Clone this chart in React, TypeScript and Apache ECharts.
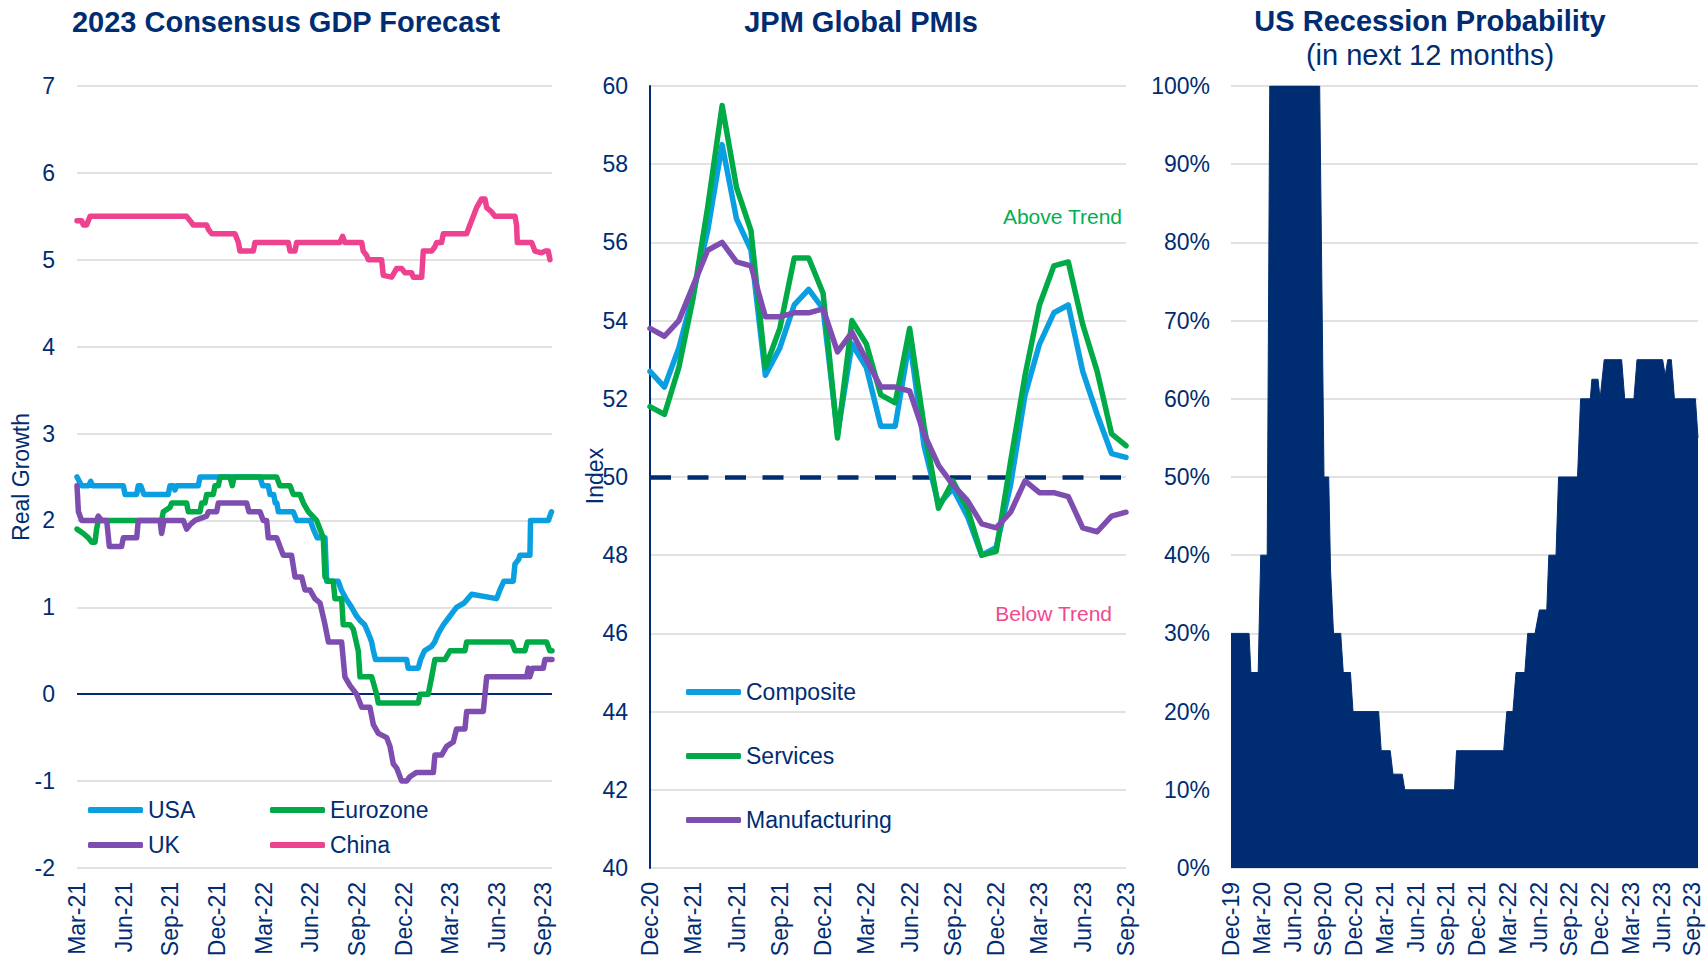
import React, { useEffect, useRef } from 'react';
import * as echarts from 'echarts';

const FONT = '"Liberation Sans", Arial, sans-serif';
const NAVY = '#002D72';
const BLUE = '#0A9FE0';
const GREEN = '#00AA47';
const PURPLE = '#7E4DB0';
const PINK = '#EE4290';
const GRID_GRAY = '#D9D9D9';

// ---------- Panel 1: 2023 Consensus GDP Forecast ----------
// points: [months since 1 Mar 2021, real growth %]
const gdpTicks = ['Mar-21', 'Jun-21', 'Sep-21', 'Dec-21', 'Mar-22', 'Jun-22', 'Sep-22', 'Dec-22', 'Mar-23', 'Jun-23', 'Sep-23'];

const usa: number[][] = [
  [0, 2.5], [0.3, 2.4], [0.75, 2.4], [0.88, 2.45], [1.0, 2.4], [2.98, 2.4], [3.09, 2.3], [3.84, 2.3], [3.94, 2.4],
  [4.1, 2.4], [4.3, 2.3], [5.87, 2.3], [5.98, 2.4], [6.2, 2.4], [6.3, 2.35], [6.41, 2.4], [7.8, 2.4], [7.91, 2.5],
  [11.77, 2.5], [11.94, 2.4], [12.3, 2.4], [12.41, 2.3], [12.65, 2.3], [12.75, 2.2], [12.85, 2.2], [12.95, 2.1],
  [13.91, 2.1], [14.13, 2.0], [15.0, 2.0], [15.2, 1.9], [15.45, 1.8], [15.95, 1.8], [16.06, 1.3], [16.8, 1.3],
  [17.0, 1.2], [17.3, 1.1], [17.66, 1.0], [17.98, 0.9], [18.2, 0.85], [18.5, 0.8], [18.74, 0.7], [18.95, 0.6],
  [19.06, 0.5], [19.2, 0.4], [21.2, 0.4], [21.3, 0.3], [21.95, 0.3], [22.1, 0.4], [22.35, 0.5], [22.8, 0.55],
  [23.0, 0.6], [23.24, 0.7], [23.57, 0.8], [23.99, 0.9], [24.2, 0.95], [24.41, 1.0], [24.9, 1.05], [25.38, 1.15],
  [26.99, 1.1], [27.2, 1.2], [27.45, 1.3], [28.06, 1.3], [28.17, 1.5], [28.4, 1.55], [28.49, 1.6], [29.13, 1.6],
  [29.17, 2.0], [30.31, 2.0], [30.52, 2.1],
];

const eurozone: number[][] = [
  [0, 1.9], [0.41, 1.85], [0.73, 1.8], [0.94, 1.75], [1.16, 1.75], [1.26, 1.9], [1.37, 2.0], [5.44, 2.0], [5.55, 2.1],
  [5.98, 2.15], [6.09, 2.2], [7.05, 2.2], [7.16, 2.1], [7.91, 2.1], [8.02, 2.2], [8.23, 2.2], [8.34, 2.3], [8.77, 2.3],
  [8.87, 2.4], [9.09, 2.4], [9.2, 2.5], [9.84, 2.5], [9.99, 2.4], [10.1, 2.5], [12.84, 2.5], [13.05, 2.4], [13.7, 2.4],
  [13.91, 2.3], [14.34, 2.3], [14.56, 2.2], [14.88, 2.1], [15.41, 2.0], [15.63, 1.9], [15.84, 1.8], [15.95, 1.35],
  [16.17, 1.3], [16.48, 1.3], [16.59, 1.1], [17.02, 1.1], [17.12, 0.8], [17.56, 0.8], [17.77, 0.75], [18.09, 0.5],
  [18.2, 0.2], [18.95, 0.2], [19.27, 0.0], [19.38, -0.1], [21.95, -0.1], [22.06, 0.0], [22.59, 0.0], [22.81, 0.2],
  [23.02, 0.4], [23.67, 0.4], [23.99, 0.5], [24.95, 0.5], [25.06, 0.6], [27.96, 0.6], [28.17, 0.5], [28.81, 0.5],
  [28.96, 0.6], [30.2, 0.6], [30.41, 0.5], [30.55, 0.5],
];

const uk: number[][] = [
  [0, 2.4], [0.09, 2.1], [0.3, 2.0], [1.26, 2.0], [1.37, 2.05], [1.59, 2.0], [1.91, 2.0], [2.08, 1.7], [2.87, 1.7],
  [2.98, 1.8], [3.84, 1.8], [3.94, 2.0], [5.34, 2.0], [5.44, 1.85], [5.6, 2.0], [6.84, 2.0], [7.05, 1.9], [7.27, 1.95],
  [7.59, 2.0], [8.34, 2.05], [8.45, 2.1], [8.98, 2.1], [9.09, 2.2], [10.91, 2.2], [11.06, 2.1], [11.77, 2.1],
  [11.98, 2.0], [12.2, 2.0], [12.3, 1.8], [12.84, 1.8], [13.05, 1.7], [13.27, 1.6], [13.8, 1.6], [14.02, 1.35],
  [14.45, 1.35], [14.66, 1.2], [14.98, 1.2], [15.3, 1.1], [15.63, 1.05], [15.95, 0.8], [16.17, 0.6], [17.02, 0.6],
  [17.23, 0.2], [17.56, 0.1], [17.98, 0.0], [18.31, -0.15], [18.84, -0.15], [19.06, -0.35], [19.38, -0.45],
  [19.92, -0.5], [20.13, -0.6], [20.34, -0.8], [20.56, -0.85], [20.88, -1.0], [21.2, -1.0], [21.41, -0.95],
  [21.84, -0.9], [22.92, -0.9], [23.02, -0.7], [23.45, -0.7], [23.77, -0.6], [24.2, -0.55], [24.41, -0.4],
  [24.95, -0.4], [25.06, -0.2], [26.13, -0.2], [26.35, 0.2], [28.92, 0.2], [29.03, 0.3], [29.12, 0.2], [29.3, 0.3],
  [29.99, 0.3], [30.1, 0.4], [30.55, 0.4],
];

const china: number[][] = [
  [0, 5.45], [0.3, 5.45], [0.41, 5.4], [0.62, 5.4], [0.84, 5.5], [7.05, 5.5], [7.27, 5.45], [7.48, 5.4], [8.34, 5.4],
  [8.45, 5.35], [8.66, 5.3], [10.16, 5.3], [10.38, 5.2], [10.48, 5.1], [11.34, 5.1], [11.45, 5.2], [13.59, 5.2],
  [13.7, 5.1], [14.02, 5.1], [14.13, 5.2], [16.91, 5.2], [17.08, 5.27], [17.23, 5.2], [18.31, 5.2], [18.41, 5.1],
  [18.63, 5.05], [18.74, 5.0], [19.59, 5.0], [19.7, 4.82], [20.24, 4.8], [20.56, 4.9], [20.88, 4.9], [21.09, 4.85],
  [21.52, 4.85], [21.63, 4.8], [22.17, 4.8], [22.27, 5.1], [22.81, 5.1], [23.02, 5.15], [23.13, 5.2], [23.45, 5.2],
  [23.56, 5.3], [25.06, 5.3], [25.27, 5.4], [25.49, 5.5], [25.7, 5.6], [26.02, 5.7], [26.24, 5.7], [26.35, 5.6],
  [26.67, 5.55], [26.88, 5.5], [28.17, 5.5], [28.27, 5.4], [28.32, 5.2], [29.24, 5.2], [29.45, 5.1], [29.88, 5.08],
  [30.1, 5.1], [30.31, 5.1], [30.42, 5.0],
];

// ---------- Panel 2: JPM Global PMIs (monthly) ----------
const pmiMonths = [
  'Dec-20', 'Jan-21', 'Feb-21', 'Mar-21', 'Apr-21', 'May-21', 'Jun-21', 'Jul-21', 'Aug-21', 'Sep-21', 'Oct-21', 'Nov-21',
  'Dec-21', 'Jan-22', 'Feb-22', 'Mar-22', 'Apr-22', 'May-22', 'Jun-22', 'Jul-22', 'Aug-22', 'Sep-22', 'Oct-22', 'Nov-22',
  'Dec-22', 'Jan-23', 'Feb-23', 'Mar-23', 'Apr-23', 'May-23', 'Jun-23', 'Jul-23', 'Aug-23', 'Sep-23',
];
const composite = [
  52.7, 52.3, 53.3, 54.7, 56.3, 58.5, 56.6, 55.8, 52.6, 53.3, 54.4, 54.8, 54.3, 51.1, 53.4, 52.8, 51.3,
  51.3, 53.5, 50.8, 49.3, 49.7, 49.0, 48.0, 48.2, 49.8, 52.1, 53.4, 54.2, 54.4, 52.7, 51.6, 50.6, 50.5,
];
const services = [
  51.8, 51.6, 52.8, 54.6, 56.9, 59.5, 57.4, 56.3, 52.8, 53.8, 55.6, 55.6, 54.7, 51.0, 54.0, 53.4, 52.1,
  51.9, 53.8, 51.3, 49.2, 49.9, 49.2, 48.0, 48.1, 50.4, 52.6, 54.4, 55.4, 55.5, 53.9, 52.7, 51.1, 50.8,
];
const manufacturing = [
  53.8, 53.6, 54.0, 54.9, 55.8, 56.0, 55.5, 55.4, 54.1, 54.1, 54.2, 54.2, 54.3, 53.2, 53.7, 53.0, 52.3,
  52.3, 52.2, 51.1, 50.3, 49.8, 49.4, 48.8, 48.7, 49.1, 49.9, 49.6, 49.6, 49.5, 48.7, 48.6, 49.0, 49.1,
];
const pmiTrendLevel = 50;

// ---------- Panel 3: US Recession Probability ----------
// points: [months since 1 Dec 2019, probability %]
const recTicks = ['Dec-19', 'Mar-20', 'Jun-20', 'Sep-20', 'Dec-20', 'Mar-21', 'Jun-21', 'Sep-21', 'Dec-21', 'Mar-22', 'Jun-22', 'Sep-22', 'Dec-22', 'Mar-23', 'Jun-23', 'Sep-23'];
const recession: number[][] = [
  [0, 30], [1.76, 30], [1.94, 25], [2.65, 25], [2.9, 40], [3.53, 40], [3.78, 100], [8.65, 100], [9.07, 50],
  [9.53, 50], [9.71, 38], [10.0, 30], [10.7, 30], [10.95, 25], [11.65, 25], [11.9, 20], [14.4, 20], [14.65, 15],
  [15.53, 15], [15.8, 12], [16.7, 12], [16.95, 10], [21.8, 10], [22.0, 15], [26.6, 15], [26.9, 20], [27.5, 20],
  [27.8, 25], [28.66, 25], [28.94, 30], [29.65, 30], [30.08, 33], [30.8, 33], [31.0, 40], [31.7, 40], [31.95, 50],
  [33.8, 50], [34.1, 60], [35.05, 60], [35.2, 62.5], [35.8, 62.5], [36.0, 60], [36.4, 65], [38.1, 65], [38.4, 60],
  [39.3, 60], [39.6, 65], [42.1, 65], [42.35, 63], [42.6, 65], [42.95, 65], [43.25, 60], [45.3, 60], [45.55, 55],
];

const tickFormatter = (labels: string[]) => (v: number) => {
  const k = v / 3;
  const r = Math.round(k);
  return Math.abs(k - r) < 1e-6 && labels[r] ? labels[r] : '';
};

const labelStyle = { color: NAVY, fontSize: 23, fontFamily: FONT };

export default function App() {
  const ref = useRef<HTMLDivElement>(null);

  useEffect(() => {
    if (!ref.current) return;
    const chart = echarts.init(ref.current, undefined, { renderer: 'svg' });

    const xLabel = { ...labelStyle, rotate: 90, margin: 14 };
    const split = { show: true, lineStyle: { color: GRID_GRAY, width: 1.5 } };
    const lineSeries = (name: string, color: string, data: any, xi: number, width = 5.5) => ({
      name,
      type: 'line',
      xAxisIndex: xi,
      yAxisIndex: xi,
      data,
      symbol: 'none',
      silent: true,
      lineStyle: { color, width, cap: 'round', join: 'round' },
      itemStyle: { color },
      z: 3,
    });

    const legendBase = {
      orient: 'vertical',
      icon: 'roundRect',
      itemWidth: 55,
      itemHeight: 6,
      selectedMode: false,
      padding: 0,
      textStyle: { color: NAVY, fontSize: 23, fontFamily: FONT, lineHeight: 24 },
    };

    const titleStyle = { fill: NAVY, fontSize: 29, fontFamily: FONT, align: 'center', verticalAlign: 'middle' };

    const option: any = {
      animation: false,
      backgroundColor: '#ffffff',
      textStyle: { fontFamily: FONT },
      grid: [
        { left: 77, top: 86, width: 475, height: 782 },
        { left: 650, top: 86, width: 476, height: 782 },
        { left: 1231, top: 86, width: 467, height: 782 },
      ],
      xAxis: [
        {
          gridIndex: 0, type: 'value', min: 0, max: 30.55, interval: 3,
          axisLine: { show: false }, axisTick: { show: false }, splitLine: { show: false },
          axisLabel: { ...xLabel, formatter: tickFormatter(gdpTicks), showMaxLabel: true },
        },
        {
          gridIndex: 1, type: 'category', boundaryGap: false, data: pmiMonths,
          axisLine: { show: false }, axisTick: { show: false }, splitLine: { show: false },
          axisLabel: { ...xLabel, interval: 2 },
        },
        {
          gridIndex: 2, type: 'value', min: 0, max: 45.55, interval: 3,
          axisLine: { show: false }, axisTick: { show: false }, splitLine: { show: false },
          axisLabel: { ...xLabel, formatter: tickFormatter(recTicks), showMaxLabel: true },
        },
      ],
      yAxis: [
        {
          gridIndex: 0, type: 'value', min: -2, max: 7, interval: 1,
          axisLine: { show: false }, axisTick: { show: false }, splitLine: split,
          axisLabel: { ...labelStyle, margin: 22 },
        },
        {
          gridIndex: 1, type: 'value', min: 40, max: 60, interval: 2,
          axisLine: { show: true, lineStyle: { color: NAVY, width: 2 } }, axisTick: { show: false }, splitLine: split,
          axisLabel: { ...labelStyle, margin: 22 },
        },
        {
          gridIndex: 2, type: 'value', min: 0, max: 100, interval: 10,
          axisLine: { show: false }, axisTick: { show: false }, splitLine: split,
          axisLabel: { ...labelStyle, margin: 21, formatter: '{value}%' },
        },
      ],
      legend: [
        { ...legendBase, data: ['USA', 'UK'], left: 88, top: 798, itemGap: 11 },
        { ...legendBase, data: ['Eurozone', 'China'], left: 270, top: 798, itemGap: 11 },
        { ...legendBase, data: ['Composite', 'Services', 'Manufacturing'], left: 686, top: 680, itemGap: 40 },
      ],
      series: [
        {
          type: 'line', xAxisIndex: 0, yAxisIndex: 0, data: [], silent: true, z: 1,
          markLine: {
            silent: true, symbol: 'none', z: 1, label: { show: false },
            lineStyle: { color: NAVY, width: 2, type: 'solid' },
            data: [{ yAxis: 0 }],
          },
        },
        lineSeries('USA', BLUE, usa, 0),
        lineSeries('Eurozone', GREEN, eurozone, 0),
        lineSeries('UK', PURPLE, uk, 0),
        lineSeries('China', PINK, china, 0),
        {
          type: 'line', xAxisIndex: 1, yAxisIndex: 1, data: [], silent: true, z: 1,
          markLine: {
            silent: true, symbol: 'none', z: 1, label: { show: false },
            lineStyle: { color: NAVY, width: 4.5, type: [21, 16.5] },
            data: [{ yAxis: pmiTrendLevel }],
          },
        },
        lineSeries('Composite', BLUE, composite, 1),
        lineSeries('Services', GREEN, services, 1),
        lineSeries('Manufacturing', PURPLE, manufacturing, 1),
        {
          type: 'line', xAxisIndex: 2, yAxisIndex: 2, data: recession, symbol: 'none', silent: true,
          lineStyle: { color: NAVY, width: 1 }, itemStyle: { color: NAVY },
          areaStyle: { color: NAVY, opacity: 1 },
        },
      ],
      graphic: [
        { type: 'text', x: 286, y: 22, silent: true, style: { ...titleStyle, text: '2023 Consensus GDP Forecast', fontWeight: 'bold' } },
        { type: 'text', x: 861, y: 22, silent: true, style: { ...titleStyle, text: 'JPM Global PMIs', fontWeight: 'bold' } },
        { type: 'text', x: 1430, y: 21, silent: true, style: { ...titleStyle, text: 'US Recession Probability', fontWeight: 'bold' } },
        { type: 'text', x: 1430, y: 55, silent: true, style: { ...titleStyle, text: '(in next 12 months)' } },
        {
          type: 'text', x: 21, y: 477, rotation: Math.PI / 2, silent: true,
          style: { text: 'Real Growth', fill: NAVY, fontSize: 23, fontFamily: FONT, align: 'center', verticalAlign: 'middle' },
        },
        {
          type: 'text', x: 595, y: 476, rotation: Math.PI / 2, silent: true,
          style: { text: 'Index', fill: NAVY, fontSize: 23, fontFamily: FONT, align: 'center', verticalAlign: 'middle' },
        },
        {
          type: 'text', x: 1122, y: 216, silent: true,
          style: { text: 'Above Trend', fill: '#00B050', fontSize: 21, fontFamily: FONT, align: 'right', verticalAlign: 'middle' },
        },
        {
          type: 'text', x: 1112, y: 613, silent: true,
          style: { text: 'Below Trend', fill: '#F04A8E', fontSize: 21, fontFamily: FONT, align: 'right', verticalAlign: 'middle' },
        },
      ],
    };

    chart.setOption(option);
    return () => chart.dispose();
  }, []);

  return (
    <div
      ref={ref}
      style={{ position: 'fixed', left: 0, top: 0, width: 1706, height: 961, background: '#fff' }}
    />
  );
}
